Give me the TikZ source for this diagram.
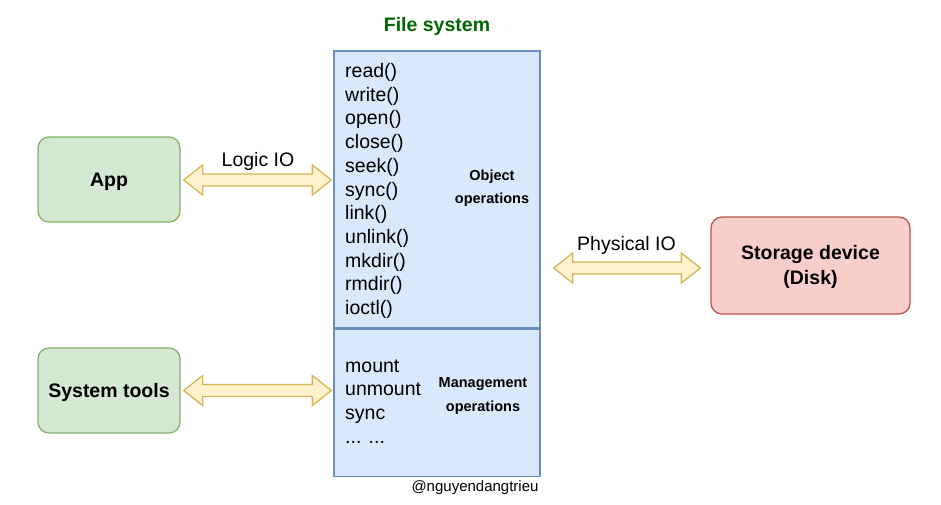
\documentclass[tikz,border=0pt]{standalone}
\usepackage{fontspec}
\setmainfont{Liberation Sans}
\usetikzlibrary{calc}
\definecolor{gfill}{HTML}{D5E8D4}
\definecolor{gline}{HTML}{82B366}
\definecolor{rfill}{HTML}{F8CECC}
\definecolor{rline}{HTML}{B85450}
\definecolor{bfill}{HTML}{DAE8FC}
\definecolor{bline}{HTML}{6C8EBF}
\definecolor{yfill}{HTML}{FFF2CC}
\definecolor{yline}{HTML}{D6B656}
\definecolor{titlegreen}{HTML}{006600}
\newcommand\flexarrow[2]{%
  \draw[ioarrow] (#1) -- ($(#1)+(19,-15)$) -- ($(#1)+(19,-6)$) -- ($(#2)+(-19,-6)$)
    -- ($(#2)+(-19,-15)$) -- (#2) -- ($(#2)+(-19,15)$) -- ($(#2)+(-19,6)$)
    -- ($(#1)+(19,6)$) -- ($(#1)+(19,15)$) -- cycle;}
\newcommand\tallstrut{\rule{0pt}{18pt}}
\begin{document}
\begin{tikzpicture}[x=1pt,y=-1pt,
  box/.style={draw, line width=1.3pt, rounded corners=11pt, inner sep=0pt,
    font=\fontsize{19.5}{25}\selectfont\bfseries, align=center},
  greenbox/.style={box, fill=gfill, draw=gline, minimum width=142pt, minimum height=85pt},
  redbox/.style={box, fill=rfill, draw=rline, minimum width=199pt, minimum height=97pt},
  fsbox/.style={draw=bline, fill=bfill, line width=1.3pt, minimum width=206pt, inner sep=0pt},
  ioarrow/.style={draw=yline, fill=yfill, line width=1.3pt, line join=miter},
  lbl/.style={inner sep=0pt, font=\fontsize{19.5}{23.7}\selectfont},
  listtxt/.style={lbl, anchor=base west},
  oplbl/.style={inner sep=0pt, align=center, font=\fontsize{14.5}{23.3}\selectfont\bfseries},
]
\useasboundingbox (0,0) rectangle (941,504);

% title
\node[lbl, font=\fontsize{19.5}{23.7}\selectfont\bfseries, text=titlegreen, anchor=base] (title) at (437,31) {File system};

% boxes
\node[greenbox] (app) at (109,179.5) {\tallstrut App};
\node[greenbox] (sys) at (109,390.5) {\tallstrut System tools};
\node[redbox] (disk) at (810.5,265.5) {\tallstrut Storage device\\(Disk)};

% file system
\node[fsbox, minimum height=277pt] (fsobj) at (437,189.5) {};
\node[fsbox, minimum height=147pt, anchor=north] (fsmgmt) at (fsobj.south) {};

% object operations list
\foreach \t [count=\i] in {read(),write(),open(),close(),seek(),sync(),link(),unlink(),mkdir(),rmdir(),ioctl()}
  \node[listtxt] (obj\i) at (345,{77.5+23.7*(\i-1)}) {\t};
\node[oplbl] (objlbl) at (492,188) {Object\\operations};

% management operations list
\foreach \t [count=\i] in {mount,unmount,sync}
  \node[listtxt] (mgmt\i) at (345,{372+23.7*(\i-1)}) {\t};
\node[listtxt] (mgmt4) at (345,443.1) {... ...};
\node[oplbl] (mgmtlbl) at (483,396) {Management\\operations};

% arrows
\coordinate (a1) at ($(app.east)+(3,0.5)$);
\coordinate (a2) at ($(app.east -| fsobj.west)+(-2,0.5)$);
\flexarrow{a1}{a2}
\coordinate (s1) at ($(sys.east)+(3,0)$);
\coordinate (s2) at ($(sys.east -| fsobj.west)+(-2,0)$);
\flexarrow{s1}{s2}
\coordinate (p1) at ($(disk.west -| fsobj.east)+(13,2.5)$);
\coordinate (p2) at ($(disk.west)+(-10,2.5)$);
\flexarrow{p1}{p2}

% arrow labels
\node[lbl, anchor=base] (logiclbl) at (258,166) {Logic IO};
\node[lbl, anchor=base] (physlbl) at (626.5,250) {Physical IO};

% credit
\node[inner sep=0pt, font=\fontsize{15}{18}\selectfont, anchor=base] (credit) at (475,491) {@nguyendangtrieu};
\end{tikzpicture}
\end{document}
